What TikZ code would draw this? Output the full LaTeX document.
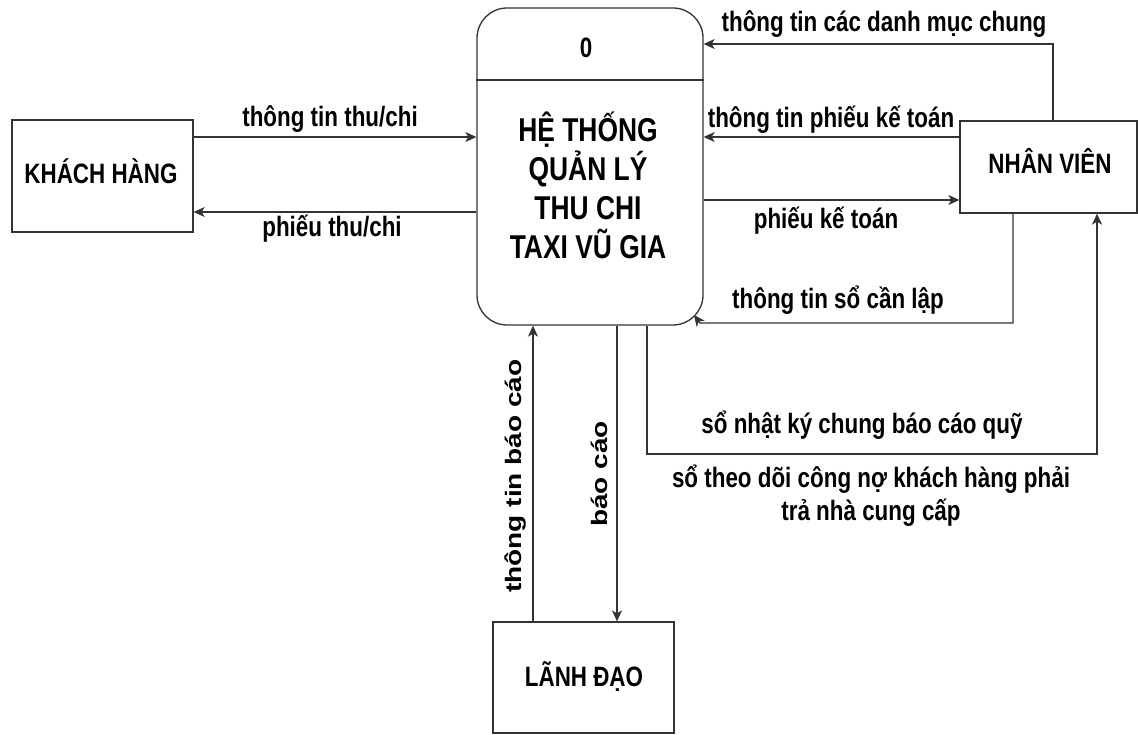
\documentclass[tikz,border=0pt]{standalone}
\usepackage{fontspec}
\setmainfont{Liberation Sans}[FakeStretch=0.8]
\newfontfamily\rotfont{Liberation Sans}
\usetikzlibrary{arrows.meta}
\definecolor{edgegray}{HTML}{333333}
\tikzset{
  box/.style={draw=edgegray, line width=1.3pt, fill=white, minimum width=181pt, minimum height=111pt, inner sep=0pt},
  proc/.style={draw=edgegray, line width=1.3pt, rounded corners=30pt, fill=white, minimum width=226pt, minimum height=317pt, inner sep=0pt},
  flow/.style={draw=edgegray, line width=1.3pt, -{Stealth[length=11pt,width=10pt,inset=3pt]}},
  lbl/.style={font=\bfseries\fontsize{28}{33}\selectfont, anchor=base, inner sep=0pt, align=center},
  ttl/.style={font=\bfseries\fontsize{33}{39}\selectfont, inner sep=0pt, align=center},
  rlbl/.style={rotate=90, anchor=base, inner sep=0pt},
}
\newcommand{\rottext}[1]{\scalebox{1}[0.8]{\rotfont\bfseries\fontsize{28}{33}\selectfont #1}}
\begin{document}
\begin{tikzpicture}[x=1pt,y=-1pt]
\useasboundingbox (0,0) rectangle (1138,735);
% nodes
\node[proc] (pc) at (590,166.5) {};
\draw[edgegray, line width=1.3pt] (pc.west |- 0,80) -- (pc.east |- 0,80);
\node[lbl] (zero) at (586,58) {0};
\node[ttl, anchor=base] (title) at (588,259) {HỆ THỐNG\\QUẢN LÝ\\THU CHI\\TAXI VŨ GIA};
\node[box, minimum width=181pt, minimum height=112pt] (kh) at (102.5,176) {};
\node[lbl] at (101,184) {KHÁCH HÀNG};
\node[box, minimum width=177pt, minimum height=92pt] (nv) at (1048.5,167) {};
\node[lbl] at (1050,174) {NHÂN VIÊN};
\node[box, minimum width=181pt, minimum height=111pt] (ld) at (583.5,677.5) {};
\node[lbl] at (584,686) {LÃNH ĐẠO};
% flows with khach hang
\draw[flow] (kh.east |- 0,137) -- (pc.west |- 0,137);
\node[lbl] at (330,127) {thông tin thu/chi};
\draw[flow] (pc.west |- 0,212) -- (kh.east |- 0,212);
\node[lbl] at (332,237) {phiếu thu/chi};
% flows with nhan vien
\draw[flow] (nv.north -| 1053,0) |- (pc.east |- 0,44);
\node[lbl] at (884,32) {thông tin các danh mục chung};
\draw[flow] (nv.west |- 0,137) -- (pc.east |- 0,137);
\node[lbl] at (831,128) {thông tin phiếu kế toán};
\draw[flow] (pc.east |- 0,200) -- (nv.west |- 0,200);
\node[lbl] at (826,229) {phiếu kế toán};
\coordinate (slend) at (694,315);
\draw[flow] (nv.south -| 1013,0) |- (700,323) -- (slend);
\node[lbl] at (838,309) {thông tin sổ cần lập};
\draw[flow] (pc.south -| 647,0) -- (647,454) -- (1097,454) -- (nv.south -| 1097,0);
\node[lbl] at (862,433) {sổ nhật ký chung báo cáo quỹ};
\node[lbl] at (871,520) {sổ theo dõi công nợ khách hàng phải\\trả nhà cung cấp};
% flows with lanh dao
\draw[flow] (ld.north -| 533,0) -- (pc.south -| 533,0);
\node[rlbl] at (521,476) {\rottext{thông tin báo cáo}};
\draw[flow] (pc.south -| 617,0) -- (ld.north -| 617,0);
\node[rlbl] at (607,474) {\rottext{báo cáo}};
\end{tikzpicture}
\end{document}
